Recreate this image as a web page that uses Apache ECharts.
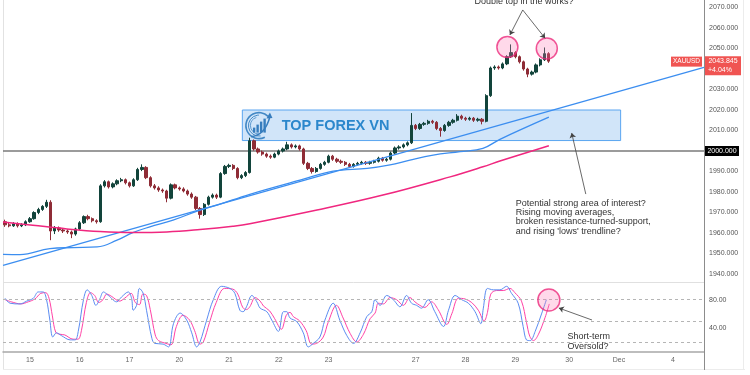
<!DOCTYPE html>
<html><head><meta charset="utf-8">
<script src="https://cdn.jsdelivr.net/npm/echarts@6/dist/echarts.min.js"></script>
<style>html,body{margin:0;padding:0;background:#fff}#c{width:750px;height:375px}</style>
</head><body><div id="c"></div>
<script>
// ---------- data ----------
const dayLabels = ['15','16','17','20','21','22','23','27','28','29','30','Dec','4'];
const dayStartIndex = [6,18,30,42,54,66,78,99,111,123,136,148,161];
const categoryCount = 169;
// [open, close, low, high] per 2-hour bar
const candles = [
[1965.5,1964,1963,1966.5],[1964,1963.5,1962.8,1965],[1963.5,1964.5,1963,1965.3],[1964.5,1963.5,1962.7,1965.2],
[1963.5,1964,1962.9,1964.8],[1964,1965.5,1963.4,1966.2],[1965.5,1967,1965,1967.8],[1967,1970,1966.5,1970.6],
[1970,1971.5,1969.2,1972.3],[1971.5,1973,1970.8,1973.6],[1973,1975,1972.2,1976.2],[1975,1961,1956.5,1976],
[1961,1962.5,1959.5,1963.4],[1962.5,1961.5,1960.6,1963.2],[1961.5,1961,1960,1962.3],[1961,1960.5,1959.6,1961.8],
[1960.5,1959.5,1957.5,1961.2],[1959.5,1962,1958.7,1962.6],[1962,1965,1961.4,1965.8],[1965,1968,1964.4,1968.6],
[1968,1967,1966.2,1968.9],[1967,1966,1965.2,1967.6],[1966,1965.5,1964.6,1966.7],[1965.5,1983,1965,1983.8],
[1983,1985,1982.2,1985.8],[1985,1982.5,1981.7,1985.6],[1982.5,1984,1981.8,1984.7],[1984,1985.5,1983.3,1986.2],
[1985.5,1986,1984.8,1986.9],[1986,1984.5,1983.7,1986.6],[1984.5,1983,1982.2,1985.1],[1983,1986,1982.5,1986.7],
[1986,1991,1985.4,1991.8],[1991,1992,1990.2,1993.5],[1992,1987,1986.3,1992.6],[1987,1983,1982.2,1987.7],
[1983,1982,1981.2,1983.9],[1982,1981,1980.1,1982.8],[1981,1980.5,1979.6,1981.7],[1980.5,1977,1975,1981.1],
[1977,1983.5,1976.4,1984.2],[1983.5,1982,1981.3,1984.1],[1982,1981.5,1980.7,1982.7],[1981.5,1980.5,1979.8,1982.3],
[1980.5,1979,1978.2,1981.2],[1979,1977.5,1976.7,1979.8],[1977.5,1972,1971.2,1978.1],[1972,1969,1967,1972.7],
[1969,1974,1968.3,1974.6],[1974,1977.5,1973.4,1978.2],[1977.5,1978.5,1976.8,1979.3],[1978.5,1977.5,1976.6,1979.2],
[1977.5,1989,1977,1989.7],[1989,1992.5,1988.4,1993.2],[1992.5,1993,1991.7,1993.8],[1993,1991.5,1990.7,1993.6],
[1991.5,1987,1986.2,1992.1],[1987,1988,1986.3,1988.7],[1988,1989.5,1987.3,1990.2],[1989.5,2005,1989,2006.5],
[2005,2001,2000.2,2005.6],[2001,1999.5,1998.7,2001.7],[1999.5,1998.5,1997.7,2000.2],[1998.5,1997.5,1996.7,1999.2],
[1997.5,1997,1996.2,1998.3],[1997,1998.5,1996.5,1999.2],[1998.5,2000,1997.9,2000.7],[2000,2001,1999.3,2001.7],
[2001,2003,2000.4,2004.5],[2003,2002,2001.2,2003.7],[2002,2002.5,2001.3,2003.2],[2002.5,2001,2000.2,2003.1],
[2001,1994,1993.2,2001.6],[1994,1991.5,1990.7,1994.7],[1991.5,1990,1989,1992.2],[1990,1991.5,1989.4,1992.2],
[1991.5,1993.5,1990.9,1994.2],[1993.5,1994.5,1992.8,1995.2],[1994.5,1997.5,1994,1998.2],[1997.5,1996,1995.2,1998.1],
[1996,1995,1994.2,1996.7],[1995,1994.5,1993.7,1995.8],[1994.5,1993.5,1992.7,1995.1],[1993.5,1992.5,1991.8,1994.2],
[1992.5,1993.5,1991.9,1994.1],[1993.5,1994,1992.8,1994.7],[1994,1994.5,1993.3,1995.2],[1994.5,1994,1993.2,1995.1],
[1994,1994.5,1993.3,1995.2],[1994.5,1995,1993.9,1995.7],[1995,1996.5,1994.4,1997.2],[1996.5,1995.5,1994.8,1997.1],
[1995.5,1996,1994.8,1996.7],[1996,1999,1995.4,1999.7],[1999,2001.5,1998.4,2002.2],[2001.5,2002,2000.7,2002.8],
[2002,2003,2001.3,2003.7],[2003,2004,2002.3,2004.7],[2004,2012.5,2003.4,2018.5],[2012.5,2011,2010.2,2013.2],
[2011,2013,2010.3,2013.7],[2013,2013.5,2012.3,2014.2],[2013.5,2014.5,2012.8,2015.2],[2014.5,2014,2013.2,2015.2],
[2014,2011,2010.2,2014.6],[2011,2010,2007,2011.7],[2010,2012.5,2009.4,2013.2],[2012.5,2014,2011.8,2014.7],
[2014,2015,2013.3,2015.7],[2015,2017,2014.4,2018],[2017,2016,2015.2,2017.7],[2016,2015.5,2014.7,2016.7],
[2015.5,2016,2014.8,2016.7],[2016,2015,2014.2,2016.6],[2015,2015.5,2014.3,2016.2],[2015.5,2014.5,2013,2016.1],
[2014.5,2027,2014,2027.7],[2027,2040.5,2026.4,2041.2],[2040.5,2041,2039.6,2041.8],[2041,2040.5,2039.7,2041.7],
[2040.5,2042.5,2039.9,2043.2],[2042.5,2046,2041.9,2046.7],[2046,2048,2045.4,2052],[2048,2046,2045.2,2048.7],
[2046,2043.5,2042.7,2046.6],[2043.5,2040,2039.2,2044.1],[2040,2037.5,2036,2040.6],[2037.5,2038.5,2036.8,2039.2],
[2038.5,2042,2037.9,2042.7],[2042,2044.5,2041.3,2045.2],[2044.5,2047.5,2043.9,2050.5],[2047.5,2043.845,2043,2048.2]
];
// moving averages / trendline: [bar index, price]
const maBlue = [[-0.5,1949.6],[3.6,1949.5],[10.8,1952.4],[16.4,1952.9],[22.2,1953.2],[27.0,1956.5],[30.8,1960.2],
[34.9,1963],[40.5,1966.3],[47.0,1971.2],[51.1,1973.6],[59.0,1978.9],[71.1,1985.8],[79.1,1990.2],[87.3,1991.5],
[92.8,1993.2],[97.6,1995.6],[103.2,1998],[109.7,1999.7],[115.2,2001.3],[119.3,2005.7],[131.1,2016.5]];
const maPink = [[-0.5,1965.4],[6.7,1963.8],[14.9,1962],[22.9,1960.7],[30.8,1960.2],[39.0,1960.5],[47.0,1961.7],
[54.9,1963.3],[59.0,1964.5],[75.2,1971.2],[91.1,1978.5],[107.3,1987.4],[115.2,1992.3],[119.3,1995.1],[131.1,2002.6]];
const trendline = [[-0.5,1944.2],[168.5,2040.8]];
// stochastic %K and %D: [bar index, value]
const stochK = [[0,82],[1.2,75],[3.6,74],[5.2,78],[6.8,82],[8.0,91],[9.2,91],[10.0,80],[10.8,51],[11.5,27],[12.4,33],[13.6,29],
[15.7,23],[16.9,23],[17.7,37],[18.9,80],[19.8,94],[20.9,86],[21.9,72],[22.9,82],[23.7,91],[24.9,86],[26.9,77],[28.1,84],
[29.7,91],[30.5,82],[30.9,65],[31.7,72],[32.4,96],[33.3,89],[34.1,65],[35.4,25],[36.1,18],[38.1,17],[39.4,13],[40.6,46],
[42.2,61],[43.8,51],[45.0,33],[46.2,13],[47.0,20],[48.6,51],[50.2,80],[52.2,99],[54.2,96],[55.4,89],[56.6,65],[57.4,63],
[58.2,70],[59.5,86],[60.7,77],[61.5,68],[63.1,63],[64.3,51],[65.9,35],[67.1,63],[67.9,63],[68.7,54],[70.3,49],[71.9,33],
[73.1,13],[74.3,18],[75.9,27],[77.1,51],[79.1,75],[80.7,51],[82.4,29],[84.0,18],[85.6,33],[87.2,56],[88.4,63],[89.2,80],
[90.4,72],[92.0,86],[93.6,80],[95.2,70],[96.8,86],[98.0,75],[99.2,72],[100.4,68],[102.0,80],[103.6,63],[105.7,42],[106.9,65],
[108.5,86],[110.1,80],[111.7,75],[113.3,63],[114.7,46],[115.3,68],[116.3,96],[117.7,94],[119.3,94],[120.9,99],[122.1,89],
[123.7,75],[124.9,42],[125.7,23],[126.6,22],[127.8,35],[129.4,61],[130.5,80]];
const stochD = [[0,80],[1.5,77],[3.8,74],[5.6,77],[7.2,81],[8.6,89],[9.8,90],[10.6,82],[11.4,57],[12.2,34],[13.2,31],[14.4,30],
[16.4,24],[17.6,24],[18.4,36],[19.6,76],[20.6,90],[21.6,86],[22.6,76],[23.6,80],[24.5,88],[25.6,85],[27.6,78],[28.8,82],
[30.4,89],[31.4,76],[32.4,73],[33.2,88],[34.1,86],[35.0,66],[36.2,30],[37.0,22],[38.8,18],[40.0,16],[41.3,42],[42.9,58],
[44.5,51],[45.7,36],[47.0,17],[47.8,20],[49.3,48],[50.9,76],[52.9,96],[54.9,95],[56.1,88],[57.3,69],[58.2,66],[59.0,70],
[60.3,83],[61.5,78],[62.3,71],[63.8,64],[65.0,53],[66.6,38],[67.8,58],[68.7,62],[69.5,56],[71.0,50],[72.6,36],[73.9,17],
[75.1,18],[76.7,27],[77.9,48],[79.9,72],[81.5,54],[83.2,32],[84.8,20],[86.4,31],[88.0,53],[89.2,61],[90.0,75],[91.2,74],
[92.8,83],[94.4,80],[96.0,72],[97.6,83],[98.8,77],[100.0,72],[101.2,69],[102.8,77],[104.4,66],[106.5,45],[107.7,60],
[109.3,82],[110.9,81],[112.5,76],[114.1,65],[115.5,50],[116.3,62],[117.1,88],[118.5,93],[120.1,93],[121.7,96],[122.9,90],
[124.5,78],[125.7,48],[126.5,28],[127.4,22],[128.6,31],[130.2,55],[131.2,74]];
const priceTicks = [1940,1950,1960,1970,1980,1990,2010,2020,2030,2050,2060,2070];
const stochTicks = [40,80];
const stochLevels = [80,50,20];
const keyLevel = 2000;
const lastPrice = 2043.845;
const changeText = '+4.04%';
const symbolName = 'XAUUSD';
const zone = [[57.2,2020],[148.4,2005.1]];
const topCircles = [[121.1,2050.7],[130.6,2050.0]];
const stochCircle = [[131.1,79.6]];
const mainArrows = [[[124.8,2068.8],[121.7,2056.6]],[[124.8,2068.8],[130.2,2055.0]],[[140.0,1979.0],[136.6,2008.8]]];
const stochArrows = [[[141.5,51.2],[133.5,68.2]]];
const noteTop = {text:'Double top in the works?', at:[125.1,2070.5]};
const noteZone = {text:"Potential strong area of interest?\nRising moving averages,\nbroken resistance-turned-support,\nand rising 'lows' trendline?", at:[123.1,1976.9]};
const noteStoch = {text:'Short-term\nOversold?', at:[135.6,34.2]};
const watermark = {text:'TOP FOREX VN', at:[66.7,2012.4], logoAt:[61.2,2012.4]};

// ---------- chart ----------
const categories = [];
for (let i = 0; i < categoryCount; i++) {
  const k = dayStartIndex.indexOf(i);
  categories.push(k >= 0 ? dayLabels[k] : '');
}
const FONT = 'Liberation Sans';
const chart = echarts.init(document.getElementById('c'), null, {renderer:'canvas'});
const upC = '#12443b', dnC = '#8f2c36';
chart.setOption({
  animation:false,
  backgroundColor:'#fff',
  textStyle:{fontFamily:FONT},
  grid:[
    {left:3, right:46, top:0, height:281},
    {left:3, right:46, top:283, height:69}
  ],
  xAxis:[
    {type:'category', gridIndex:0, data:categories, show:false, boundaryGap:true},
    {type:'value', gridIndex:0, min:-0.5, max:categoryCount-0.5, show:false},
    {type:'category', gridIndex:1, data:categories, boundaryGap:true,
      axisLine:{show:true, lineStyle:{color:'#a8a8a8', width:1.5}},
      axisTick:{show:false}, splitLine:{show:false},
      axisLabel:{interval:(i)=>categories[i]!=='', fontSize:7, color:'#666', margin:5, fontFamily:FONT}},
    {type:'value', gridIndex:1, min:-0.5, max:categoryCount-0.5, show:false}
  ],
  yAxis:[
    {type:'value', gridIndex:0, position:'right', min:1936.6, max:2073.66, scale:true,
      axisLine:{show:false}, axisTick:{show:false}, splitLine:{show:false},
      axisLabel:{customValues:priceTicks, formatter:(v)=>v.toFixed(3), fontSize:7, color:'#555', margin:5, fontFamily:FONT}},
    {type:'value', gridIndex:1, position:'right', min:5.8, max:103.7,
      axisLine:{show:false}, axisTick:{show:false}, splitLine:{show:false},
      axisLabel:{customValues:stochTicks, formatter:(v)=>v.toFixed(2), fontSize:7, color:'#555', margin:5, fontFamily:FONT}}
  ],
  series:[
    {type:'line', xAxisIndex:1, yAxisIndex:0, data:[[ -0.5, keyLevel],[categoryCount-0.5, keyLevel]], symbol:'none',
      lineStyle:{color:'#7a7a7a', width:1.5}, silent:true, z:1,
      markArea:{silent:true, itemStyle:{color:'rgba(90,160,235,0.28)', borderColor:'#5aa5f0', borderWidth:1},
        data:[[{coord:zone[0]},{coord:zone[1]}]]}},
    {type:'candlestick', xAxisIndex:0, yAxisIndex:0, data:candles, barWidth:2.8, z:3,
      itemStyle:{color:upC, color0:dnC, borderColor:upC, borderColor0:dnC, borderWidth:1}},
    {type:'line', xAxisIndex:1, yAxisIndex:0, data:maBlue, symbol:'none', smooth:0.4,
      lineStyle:{color:'#3c8ef0', width:1.3}, z:4},
    {type:'line', xAxisIndex:1, yAxisIndex:0, data:trendline, symbol:'none',
      lineStyle:{color:'#3c8ef0', width:1.3}, z:4},
    {type:'line', xAxisIndex:1, yAxisIndex:0, data:maPink, symbol:'none', smooth:0.4,
      lineStyle:{color:'#f0277f', width:1.5}, z:4},
    {type:'scatter', xAxisIndex:1, yAxisIndex:0, data:topCircles, symbolSize:21, z:6,
      itemStyle:{color:'rgba(255,120,180,0.35)', borderColor:'#ec2a7c', borderWidth:1.5}},
    {type:'lines', coordinateSystem:'cartesian2d', xAxisIndex:1, yAxisIndex:0, symbol:['none','arrow'], symbolSize:5,
      lineStyle:{color:'#444', width:0.8, opacity:1}, data:mainArrows.map(c=>({coords:c})), silent:true, z:7},
    {type:'line', xAxisIndex:3, yAxisIndex:1, data:stochD, symbol:'none', smooth:0.35,
      lineStyle:{color:'#ff42a6', width:1}, z:3,
      markLine:{silent:true, symbol:'none', label:{show:false},
        lineStyle:{color:'#b5b5b5', type:[3,3], width:1}, data:stochLevels.map(v=>({yAxis:v}))}},
    {type:'line', xAxisIndex:3, yAxisIndex:1, data:stochK, symbol:'none', smooth:0.35,
      lineStyle:{color:'#5b8cf2', width:1}, z:4},
    {type:'scatter', xAxisIndex:3, yAxisIndex:1, data:stochCircle, symbolSize:22, z:6,
      itemStyle:{color:'rgba(255,120,180,0.35)', borderColor:'#ec2a7c', borderWidth:1.5}},
    {type:'lines', coordinateSystem:'cartesian2d', xAxisIndex:3, yAxisIndex:1, symbol:['none','arrow'], symbolSize:5,
      lineStyle:{color:'#444', width:0.8, opacity:1}, data:stochArrows.map(c=>({coords:c})), silent:true, z:7}
  ]
});

// ---------- annotations placed from data coordinates ----------
const P = (p)=>chart.convertToPixel({xAxisIndex:1, yAxisIndex:0}, p);
const S = (p)=>chart.convertToPixel({xAxisIndex:3, yAxisIndex:1}, p);
const axisX = P([categoryCount-0.5, keyLevel])[0];
const yKey = P([0,keyLevel])[1];
const yLast = P([0,lastPrice])[1];
const tTop = P(noteTop.at), tZone = P(noteZone.at), tSt = S(noteStoch.at);
const wm = P(watermark.at), lg = P(watermark.logoAt);
const txt = {fontFamily:FONT, fontSize:9, fill:'#333', lineHeight:9.4};
const blue = '#2b87cc';
chart.setOption({graphic:[
  {type:'line', shape:{x1:3.5,y1:0,x2:3.5,y2:370}, style:{stroke:'#e2e2e2', lineWidth:1}, silent:true},
  {type:'line', shape:{x1:3,y1:282.5,x2:axisX,y2:282.5}, style:{stroke:'#e0e0e0', lineWidth:1}, silent:true},
  {type:'line', shape:{x1:3,y1:369.5,x2:745,y2:369.5}, style:{stroke:'#ececec', lineWidth:1}, silent:true},
  {type:'line', shape:{x1:743.5,y1:0,x2:743.5,y2:370}, style:{stroke:'#ececec', lineWidth:1}, silent:true},
  {type:'line', shape:{x1:axisX+0.5,y1:0,x2:axisX+0.5,y2:370}, style:{stroke:'#8c8c8c', lineWidth:1}, silent:true, z:10},
  // key level label
  {type:'rect', shape:{x:axisX+1, y:yKey-5, width:34, height:10}, style:{fill:'#000'}, z:20},
  {type:'text', x:axisX+18, y:yKey, style:{text:keyLevel.toFixed(3), fill:'#fff', fontSize:7, fontFamily:FONT, align:'center', verticalAlign:'middle'}, z:21},
  // last price label
  {type:'rect', shape:{x:axisX+1, y:yLast-5, width:36, height:19}, style:{fill:'#f05452'}, z:20},
  {type:'text', x:axisX+19, y:yLast, style:{text:lastPrice.toFixed(3), fill:'#fff', fontSize:7, fontFamily:FONT, align:'center', verticalAlign:'middle'}, z:21},
  {type:'text', x:axisX+16, y:yLast+8.5, style:{text:changeText, fill:'#fff', fontSize:7, fontFamily:FONT, align:'center', verticalAlign:'middle'}, z:21},
  {type:'rect', shape:{x:axisX-33, y:yLast-4.5, width:31, height:10}, style:{fill:'#f05452'}, z:20},
  {type:'text', x:axisX-17.5, y:yLast+0.5, style:{text:symbolName, fill:'#fff', fontSize:6.5, fontFamily:FONT, align:'center', verticalAlign:'middle'}, z:21},
  // notes
  {type:'text', x:tTop[0], y:tTop[1], style:Object.assign({text:noteTop.text, align:'center', verticalAlign:'bottom'}, txt), z:20},
  {type:'text', x:tZone[0], y:tZone[1], style:Object.assign({text:noteZone.text, align:'left', verticalAlign:'top'}, txt), z:20},
  {type:'text', x:tSt[0], y:tSt[1], style:Object.assign({text:noteStoch.text, align:'left', verticalAlign:'top'}, txt), z:20},
  // watermark
  {type:'text', x:wm[0], y:wm[1], style:{text:watermark.text, fill:blue, fontSize:14.5, fontWeight:'bold', fontFamily:FONT, align:'left', verticalAlign:'middle'}, z:2},
  {type:'group', x:lg[0], y:lg[1], z:2, children:[
    {type:'arc', shape:{cx:0, cy:0, r:13, startAngle:Math.PI*0.35, endAngle:Math.PI*1.75}, style:{stroke:'#3a7fb8', lineWidth:1.6, fill:'none'}},
    {type:'arc', shape:{cx:0, cy:0, r:10.5, startAngle:Math.PI*0.45, endAngle:Math.PI*1.5}, style:{stroke:'#3a7fb8', lineWidth:1, fill:'none'}},
    {type:'arc', shape:{cx:0, cy:0, r:8.5, startAngle:Math.PI*0.5, endAngle:Math.PI*1.4}, style:{stroke:'#3a7fb8', lineWidth:0.8, fill:'none'}},
    {type:'rect', shape:{x:-6, y:2, width:2.4, height:5}, style:{fill:'#2a70ad'}},
    {type:'rect', shape:{x:-2.5, y:-1, width:2.4, height:8}, style:{fill:'#2a70ad'}},
    {type:'rect', shape:{x:1, y:-4, width:2.4, height:11}, style:{fill:'#2a70ad'}},
    {type:'rect', shape:{x:4.5, y:-7, width:2.4, height:14}, style:{fill:'#2a70ad'}},
    {type:'bezierCurve', shape:{x1:-8, y1:11, cpx1:6, cpy1:10, x2:11, y2:-9}, style:{stroke:'#2a70ad', lineWidth:1.6, fill:'none'}},
    {type:'polygon', shape:{points:[[11,-13],[7.5,-7],[13.5,-7.5]]}, style:{fill:'#2a70ad'}}
  ]}
]});
</script></body></html>
